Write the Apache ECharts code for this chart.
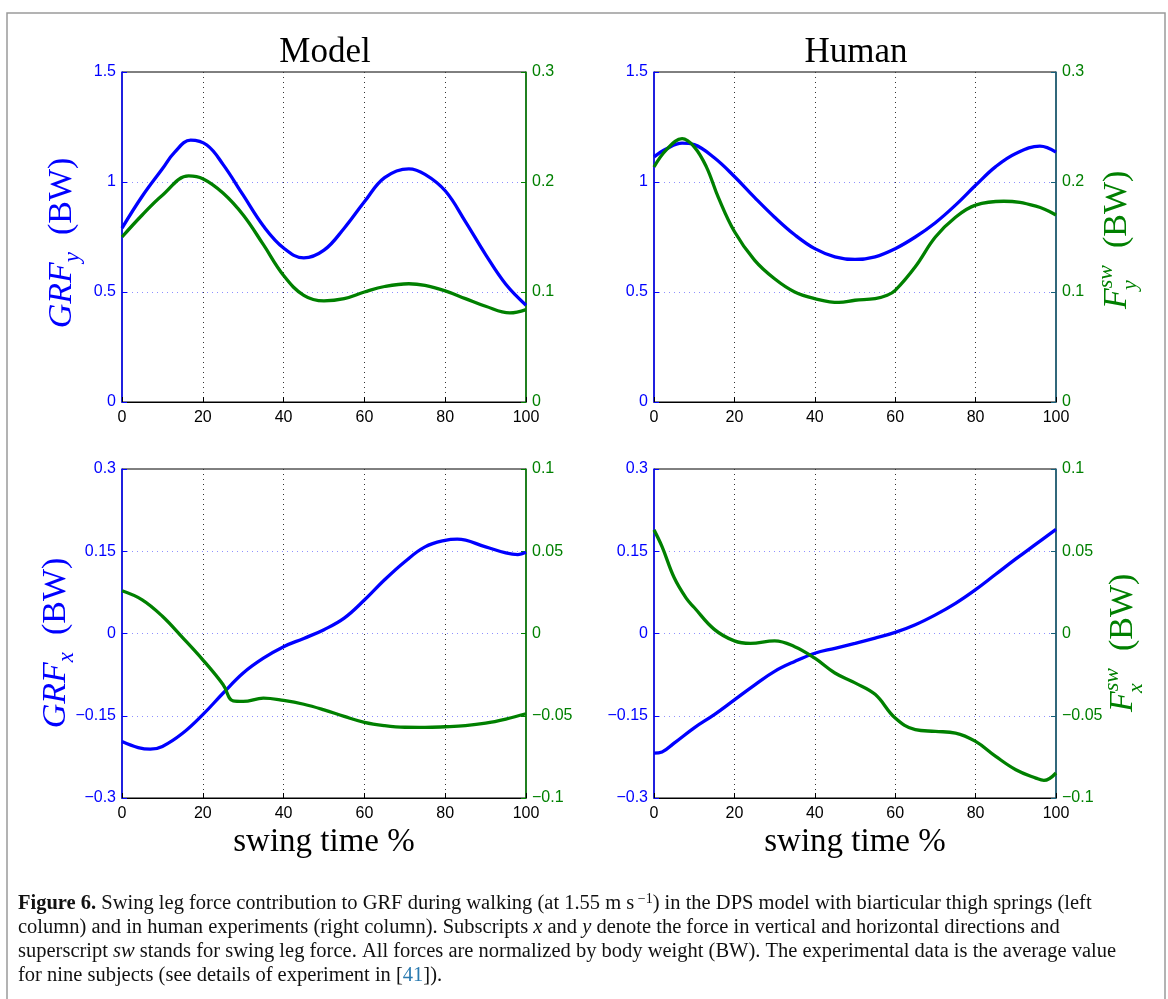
<!DOCTYPE html>
<html>
<head>
<meta charset="utf-8">
<title>Figure 6</title>
<script src="https://cdn.jsdelivr.net/npm/echarts@6/dist/echarts.min.js"></script>
<style>
  html, body { margin: 0; padding: 0; background: #fff; }
  #fig { width: 1168px; height: 999px; }
</style>
</head>
<body>
<div id="fig"></div>
<script>
// swing time (%) sample points, one array per curve (turning points included)

// Model column
var modelGrfYPct = [0, 5, 10, 13, 17, 21, 25, 30, 35, 40, 45, 50, 55, 60, 65, 71, 75, 80, 85, 90, 95, 100];
var modelGrfY = [0.79, 0.935, 1.06, 1.135, 1.19, 1.168, 1.08, 0.94, 0.80, 0.70, 0.655, 0.69, 0.79, 0.91, 1.02, 1.06, 1.035, 0.96, 0.82, 0.67, 0.535, 0.44];
var modelFswYPct = [0, 5, 10, 16.5, 20, 25, 30, 35, 40, 45, 50, 55, 60, 65, 71, 75, 80, 85, 90, 96, 100];
var modelFswY = [0.150, 0.170, 0.188, 0.2055, 0.203, 0.190, 0.170, 0.143, 0.115, 0.097, 0.092, 0.094, 0.100, 0.105, 0.1075, 0.106, 0.101, 0.094, 0.087, 0.081, 0.084];
var modelGrfXPct = [0, 4, 7, 10, 15, 20, 25, 30, 35, 40, 45, 50, 55, 60, 65, 70, 75, 80, 83, 90, 95, 98, 100];
var modelGrfX = [-0.197, -0.208, -0.211, -0.206, -0.182, -0.148, -0.109, -0.072, -0.045, -0.024, -0.009, 0.007, 0.028, 0.061, 0.098, 0.131, 0.158, 0.170, 0.172, 0.158, 0.147, 0.144, 0.148];
var modelFswXPct = [0, 5, 10, 15, 20, 25, 27.5, 30, 35, 40, 45, 50, 55, 60, 65, 70, 75, 80, 85, 90, 95, 100];
var modelFswX = [0.026, 0.0205, 0.0105, -0.0025, -0.016, -0.031, -0.041, -0.0413, -0.0393, -0.0407, -0.043, -0.0464, -0.0504, -0.054, -0.056, -0.057, -0.0571, -0.0567, -0.056, -0.0545, -0.052, -0.0488];

// Human column
var humanGrfYPct = [0, 3, 7, 10, 15, 20, 25, 30, 35, 40, 45, 50, 55, 60, 65, 70, 75, 80, 85, 90, 96, 100];
var humanGrfY = [1.114, 1.15, 1.177, 1.17, 1.11, 1.025, 0.93, 0.84, 0.76, 0.697, 0.66, 0.648, 0.66, 0.697, 0.75, 0.815, 0.895, 0.985, 1.07, 1.13, 1.163, 1.136];
var humanFswYPct = [0, 3, 7, 10, 13, 16, 20, 25, 30, 35, 40, 46, 50, 55, 58, 60, 65, 70, 75, 80, 87, 95, 100];
var humanFswY = [0.2136, 0.229, 0.2394, 0.232, 0.214, 0.186, 0.155, 0.129, 0.112, 0.100, 0.094, 0.0905, 0.0925, 0.094, 0.097, 0.1015, 0.123, 0.150, 0.168, 0.179, 0.1825, 0.178, 0.170];
var humanGrfXPct = [0, 2, 5, 10, 15, 20, 25, 30, 35, 40, 45, 50, 55, 60, 65, 70, 75, 80, 85, 90, 95, 100];
var humanGrfX = [-0.218, -0.216, -0.200, -0.172, -0.148, -0.121, -0.094, -0.069, -0.051, -0.036, -0.027, -0.018, -0.0085, 0.002, 0.016, 0.034, 0.055, 0.080, 0.108, 0.136, 0.163, 0.190];
var humanFswXPct = [0, 2, 5, 8, 10, 15, 20, 24, 30, 35, 40, 45, 50, 55, 60, 65, 70, 75, 80, 85, 90, 95, 97, 100];
var humanFswX = [0.063, 0.0528, 0.034, 0.0215, 0.0158, 0.0025, -0.0045, -0.006, -0.0045, -0.008, -0.015, -0.024, -0.030, -0.037, -0.0514, -0.0585, -0.0595, -0.0605, -0.0656, -0.0747, -0.0828, -0.0879, -0.0893, -0.0848];

var BLUE = '#0000ff';
var GREEN = '#008000';
var TEAL = '#17607a';
var SERIF = 'Liberation Serif';
var SANS = 'Liberation Sans';

var chart = echarts.init(document.getElementById('fig'));

function pairs(xs, ys) {
    return xs.map(function (x, i) { return [x, ys[i]]; });
}

function tickFmt(v) {
    return String(+v.toFixed(2)).replace('-', '\u2212');
}

var grids = [
    {left: 122, top: 72, width: 404, height: 330},
    {left: 654, top: 72, width: 402, height: 330},
    {left: 122, top: 469, width: 404, height: 329},
    {left: 654, top: 469, width: 402, height: 329}
];

var xAxes = grids.map(function (g, i) {
    return {
        type: 'value', gridIndex: i, min: 0, max: 100, interval: 20,
        name: i >= 2 ? 'swing time %' : '',
        nameLocation: 'middle', nameGap: 28,
        nameTextStyle: {fontFamily: SERIF, fontSize: 33, color: '#000'},
        axisLine: {onZero: false, lineStyle: {color: '#000', width: 1}},
        axisTick: {inside: true, length: 5, lineStyle: {color: '#000'}},
        axisLabel: {color: '#000', fontFamily: SANS, fontSize: 16, margin: 8},
        splitLine: {show: true, showMinLine: false, showMaxLine: false,
            lineStyle: {color: '#333', type: [1, 4], width: 1}}
    };
});

function yAxisPair(gi, lmin, lmax, lstep, rmin, rmax, rstep, rightColor) {
    return [{
        type: 'value', gridIndex: gi, position: 'left', min: lmin, max: lmax, interval: lstep,
        axisLine: {show: true, onZero: false, lineStyle: {color: BLUE, width: 1.5}},
        axisTick: {show: true, inside: true, length: 5, lineStyle: {color: BLUE}},
        axisLabel: {color: BLUE, fontFamily: SANS, fontSize: 16, margin: 6, formatter: tickFmt},
        splitLine: {show: true, showMinLine: false, showMaxLine: false,
            lineStyle: {color: '#8f8fff', type: [1, 4], width: 1}}
    }, {
        type: 'value', gridIndex: gi, position: 'right', min: rmin, max: rmax, interval: rstep,
        axisLine: {show: true, onZero: false, lineStyle: {color: rightColor, width: 1.5}},
        axisTick: {show: true, inside: true, length: 5, lineStyle: {color: rightColor}},
        axisLabel: {color: GREEN, fontFamily: SANS, fontSize: 16, margin: 6, formatter: tickFmt},
        splitLine: {show: false}
    }];
}

var yAxes = [].concat(
    yAxisPair(0, 0, 1.5, 0.5, 0, 0.3, 0.1, GREEN),
    yAxisPair(1, 0, 1.5, 0.5, 0, 0.3, 0.1, TEAL),
    yAxisPair(2, -0.3, 0.3, 0.15, -0.1, 0.1, 0.05, GREEN),
    yAxisPair(3, -0.3, 0.3, 0.15, -0.1, 0.1, 0.05, TEAL)
);

function line(xi, yi, data, color) {
    return {
        type: 'line', xAxisIndex: xi, yAxisIndex: yi, data: data,
        smooth: 0.4, showSymbol: false, silent: true,
        lineStyle: {color: color, width: 3.3}
    };
}

var series = [
    line(0, 0, pairs(modelGrfYPct, modelGrfY), BLUE),
    line(0, 1, pairs(modelFswYPct, modelFswY), GREEN),
    line(1, 2, pairs(humanGrfYPct, humanGrfY), BLUE),
    line(1, 3, pairs(humanFswYPct, humanFswY), GREEN),
    line(2, 4, pairs(modelGrfXPct, modelGrfX), BLUE),
    line(2, 5, pairs(modelFswXPct, modelFswX), GREEN),
    line(3, 6, pairs(humanGrfXPct, humanGrfX), BLUE),
    line(3, 7, pairs(humanFswXPct, humanFswX), GREEN)
];

// axis names with sub/superscripts
function grfLabel(x, y, sub) {
    var big = {fontFamily: SERIF, fontSize: 34, lineHeight: 44, fill: BLUE};
    return {
        type: 'text', x: x, y: y, rotation: Math.PI / 2,
        style: {
            text: '{i|GRF}{s|' + sub + '}{r|  (BW)}',
            align: 'center', verticalAlign: 'middle',
            fontFamily: SERIF, fontSize: 34, fill: BLUE,
            rich: {
                i: Object.assign({fontStyle: 'italic'}, big),
                s: {fontFamily: SERIF, fontStyle: 'italic', fontSize: 23, lineHeight: 22, verticalAlign: 'bottom', fill: BLUE},
                r: big
            }
        }
    };
}

function fswLabel(x, y, sub) {
    var big = {fontFamily: SERIF, fontSize: 34, lineHeight: 44, fill: GREEN};
    return {
        type: 'group', x: x, y: y, rotation: Math.PI / 2,
        children: [{
            type: 'text', x: -70, y: 0,
            style: {
                text: '{i|F}{p|sw}{r|  (BW)}',
                align: 'left', verticalAlign: 'middle',
                fontFamily: SERIF, fontSize: 34, fill: GREEN,
                rich: {
                    i: Object.assign({fontStyle: 'italic'}, big),
                    p: {fontFamily: SERIF, fontStyle: 'italic', fontSize: 22, lineHeight: 22, verticalAlign: 'top', fill: GREEN},
                    r: big
                }
            }
        }, {
            type: 'text', x: -51, y: 13,
            style: {
                text: sub, align: 'left', verticalAlign: 'middle',
                fontFamily: SERIF, fontStyle: 'italic', fontSize: 22, fill: GREEN
            }
        }]
    };
}

var caption =
    '{b|Figure 6.} Swing leg force contribution to GRF during walking (at 1.55 m s{sup| \u22121}) in the DPS model with biarticular thigh springs (left\n' +
    'column) and in human experiments (right column). Subscripts {it|x} and {it|y} denote the force in vertical and horizontal directions and\n' +
    'superscript {it|sw} stands for swing leg force. All forces are normalized by body weight (BW). The experimental data is the average value\n' +
    'for nine subjects (see details of experiment in [{lk|41}]).';

var capSize = 20.5;

var graphics = [
    {type: 'rect', shape: {x: 7, y: 13, width: 1158, height: 1000}, silent: true,
        style: {fill: 'none', stroke: '#9a9a9a', lineWidth: 1.5}},
    {type: 'text', x: 325, y: 53, style: {text: 'Model', align: 'center', verticalAlign: 'middle',
        fontFamily: SERIF, fontSize: 35, fill: '#000'}},
    {type: 'text', x: 856, y: 53, style: {text: 'Human', align: 'center', verticalAlign: 'middle',
        fontFamily: SERIF, fontSize: 35, fill: '#000'}},
    grfLabel(62, 243, 'y'),
    grfLabel(56, 643, 'x'),
    fswLabel(1117, 239, 'y'),
    fswLabel(1123, 642, 'x'),
    {type: 'text', x: 18, y: 892, style: {
        text: caption, align: 'left', verticalAlign: 'top',
        fontFamily: SERIF, fontSize: capSize, lineHeight: 24, fill: '#111',
        rich: {
            b: {fontFamily: SERIF, fontWeight: 'bold', fontSize: capSize, lineHeight: 24, fill: '#111'},
            it: {fontFamily: SERIF, fontStyle: 'italic', fontSize: capSize, lineHeight: 24, fill: '#111'},
            sup: {fontFamily: SERIF, fontSize: 14, lineHeight: 14, verticalAlign: 'top', fill: '#111'},
            lk: {fontFamily: SERIF, fontSize: capSize, lineHeight: 24, fill: '#2a7ab0'}
        }
    }}
];

chart.setOption({
    animation: false,
    backgroundColor: '#fff',
    grid: grids.map(function (g) {
        return Object.assign({show: true, borderColor: '#000', borderWidth: 1,
            backgroundColor: 'transparent', containLabel: false, outerBoundsMode: 'none'}, g);
    }),
    xAxis: xAxes,
    yAxis: yAxes,
    series: series,
    graphic: graphics
});
</script>
</body>
</html>
